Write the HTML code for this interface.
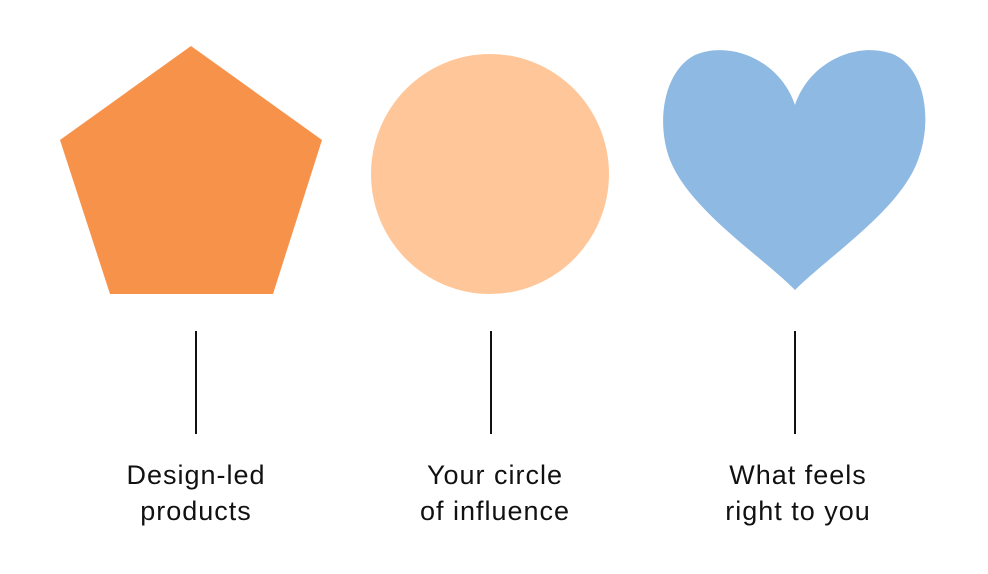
<!DOCTYPE html>
<html><head><meta charset="utf-8"><style>
html,body{margin:0;padding:0;background:#fff;width:988px;height:574px;overflow:hidden}
.t{position:absolute;font-family:"Liberation Sans",sans-serif;font-size:27px;letter-spacing:1px;color:#111;text-align:center;line-height:36px;width:300px}
</style></head><body>
<svg width="988" height="574" style="position:absolute;left:0;top:0">
<polygon points="191,46 322,140 273,294 110,294 60,140" fill="#F7924B"/>
<ellipse cx="490" cy="174" rx="119" ry="120" fill="#FFC799"/>
<path d="M795,105 C780,60 730,40 695,55 C665,70 655,120 670,160 C690,210 760,255 795,290 C830,255 900,210 918,160 C933,120 925,70 895,55 C860,40 810,60 795,105 Z" fill="#8DB9E3"/>
<line x1="196" y1="331" x2="196" y2="434" stroke="#111" stroke-width="2"/>
<line x1="491" y1="331" x2="491" y2="434" stroke="#111" stroke-width="2"/>
<line x1="795" y1="331" x2="795" y2="434" stroke="#111" stroke-width="2"/>
</svg>
<div class="t" style="left:46px;top:457px">Design-led<br>products</div>
<div class="t" style="left:345px;top:457px">Your circle<br>of influence</div>
<div class="t" style="left:648px;top:457px">What feels<br>right to you</div>
</body></html>
